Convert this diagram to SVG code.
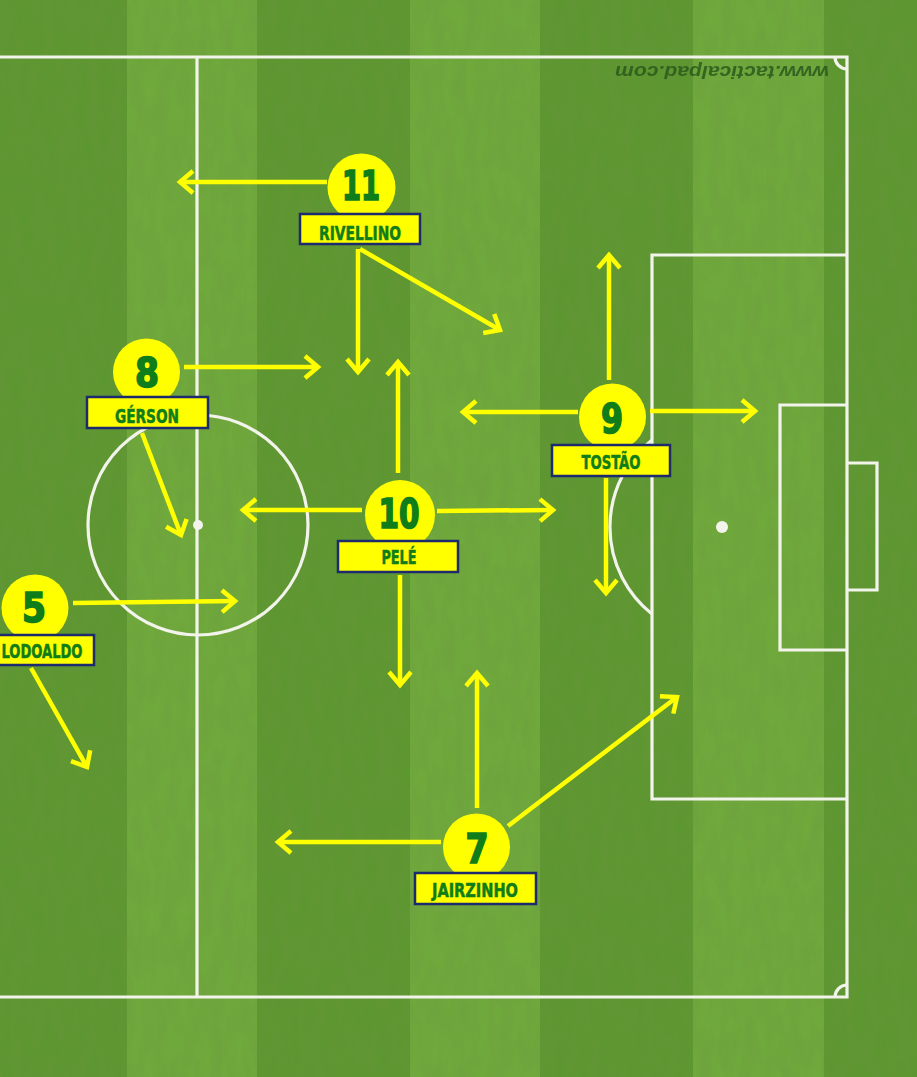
<svg xmlns="http://www.w3.org/2000/svg" width="917" height="1077" viewBox="0 0 917 1077">
<style>
.ln{fill:none;stroke:#f2f3ea;stroke-width:3.2}
.ar{fill:none;stroke:#ffff00;stroke-width:4.5;stroke-linecap:butt;marker-end:url(#ah)}
.disc{fill:#ffff00}
.box{fill:#ffff00;stroke:#1c2a6e;stroke-width:2.5}
.num{font-family:"DejaVu Sans Condensed","DejaVu Sans",sans-serif;font-weight:bold;font-size:40px;fill:#0f7d1a;stroke:#0f7d1a;stroke-width:1.6;text-anchor:middle}
.lab{font-family:"DejaVu Sans Condensed","DejaVu Sans",sans-serif;font-weight:bold;font-size:19px;fill:#0f7d1a;stroke:#0f7d1a;stroke-width:0.5;text-anchor:middle}
.dk{fill:#5c972f}
.lt{fill:#70ab3c}
</style>
<defs>
<marker id="ah" markerUnits="userSpaceOnUse" viewBox="-18 -14 22 28" refX="0" refY="0" markerWidth="22" markerHeight="28" orient="auto" overflow="visible">
<path d="M-13,-11 L0,0 L-13,11" fill="none" stroke="#ffff00" stroke-width="4.5" stroke-linejoin="miter"/>
</marker>
<filter id="grass" x="0" y="0" width="100%" height="100%">
<feTurbulence type="fractalNoise" baseFrequency="0.09 0.03" numOctaves="3" seed="4"/>
<feColorMatrix type="matrix" values="0 0 0 0 0.15  0 0 0 0 0.3  0 0 0 0 0.05  0 0 0 -1.1 1.0"/>
</filter>
</defs>
<g id="pitch">
<rect x="0" y="0" width="917" height="1077" class="dk"/>
<rect x="127" y="0" width="130" height="1077" class="lt"/>
<rect x="410" y="0" width="130" height="1077" class="lt"/>
<rect x="693" y="0" width="131" height="1077" class="lt"/>
<rect x="0" y="0" width="917" height="1077" filter="url(#grass)" opacity="0.45"/>
<path class="ln" d="M0,57 H847 V997 H0"/>
<path class="ln" d="M197,57 V997"/>
<circle class="ln" cx="198" cy="525" r="110"/>
<circle cx="198" cy="525" r="5" fill="#f2f3ea"/>
<path class="ln" d="M847,255 H652 V799 H847"/>
<path class="ln" d="M847,405 H780 V650 H847"/>
<path class="ln" d="M847,463 H877 V590 H847"/>
<circle cx="722" cy="527" r="6" fill="#f2f3ea"/>
<path class="ln" d="M652,440 A111,111 0 0 0 652,614"/>
<path class="ln" d="M835,57 A12,12 0 0 0 847,69"/>
<path class="ln" d="M835,997 A12,12 0 0 1 847,985"/>
<text x="722" y="78" transform="rotate(180 722 72)" font-family="Liberation Sans, sans-serif" font-style="italic" font-weight="bold" font-size="19" fill="#2c5a1c" text-anchor="middle" textLength="214" lengthAdjust="spacingAndGlyphs" opacity="0.85">www.tacticalpad.com</text>
</g>
<g id="connectors">
<path class="ar" d="M327,182 L180,182"/>
<path class="ar" d="M358,249 L358,372"/>
<path class="ar" d="M360,249 L500,330"/>
<path class="ar" d="M184,367 L318,367"/>
<path class="ar" d="M142,433 L181,535"/>
<path class="ar" d="M398,473 L398,362"/>
<path class="ar" d="M362,510 L243,510"/>
<path class="ar" d="M437,511 L553,510"/>
<path class="ar" d="M400,575 L400,685"/>
<path class="ar" d="M578,412 L463,412"/>
<path class="ar" d="M650,411 L755,411"/>
<path class="ar" d="M609,380 L609,255"/>
<path class="ar" d="M606,478 L606,593"/>
<path class="ar" d="M73,603 L235,601"/>
<path class="ar" d="M31,668 L87,767"/>
<path class="ar" d="M477,808 L477,673"/>
<path class="ar" d="M508,826 L677,697"/>
<path class="ar" d="M441,842 L278,842"/>
</g>
<g id="p11">
<circle class="disc" cx="361.5" cy="187.5" r="34"/>
<rect class="box" x="300" y="214" width="120" height="30"/>
<text class="num" x="361" y="200" textLength="38" lengthAdjust="spacingAndGlyphs">11</text>
<text class="lab" x="360" y="240" textLength="82" lengthAdjust="spacingAndGlyphs">RIVELLINO</text>
</g>
<g id="p8">
<circle class="disc" cx="146.5" cy="372" r="33.5"/>
<rect class="box" x="87" y="397" width="121" height="31"/>
<text class="num" x="147" y="387" textLength="24" lengthAdjust="spacingAndGlyphs">8</text>
<text class="lab" x="147" y="423" textLength="64" lengthAdjust="spacingAndGlyphs">GÉRSON</text>
</g>
<g id="p9">
<circle class="disc" cx="612.5" cy="417" r="33.5"/>
<rect class="box" x="552" y="445" width="118" height="31"/>
<text class="num" x="612" y="433" textLength="22" lengthAdjust="spacingAndGlyphs">9</text>
<text class="lab" x="611" y="469" textLength="59" lengthAdjust="spacingAndGlyphs">TOSTÃO</text>
</g>
<g id="p10">
<circle class="disc" cx="400" cy="515" r="35"/>
<rect class="box" x="338" y="541" width="120" height="31"/>
<text class="num" x="399" y="528" textLength="41" lengthAdjust="spacingAndGlyphs">10</text>
<text class="lab" x="399" y="564" textLength="35" lengthAdjust="spacingAndGlyphs">PELÉ</text>
</g>
<g id="p5">
<circle class="disc" cx="35" cy="608" r="33.5"/>
<rect class="box" x="-26" y="635" width="120" height="30"/>
<text class="num" x="34" y="622" textLength="24" lengthAdjust="spacingAndGlyphs">5</text>
<text class="lab" x="42" y="658" textLength="81" lengthAdjust="spacingAndGlyphs">LODOALDO</text>
</g>
<g id="p7">
<circle class="disc" cx="476.5" cy="847" r="33.5"/>
<rect class="box" x="415" y="873" width="121" height="31"/>
<text class="num" x="477" y="863" textLength="23" lengthAdjust="spacingAndGlyphs">7</text>
<text class="lab" x="475" y="897" textLength="86" lengthAdjust="spacingAndGlyphs">JAIRZINHO</text>
</g>
</svg>
